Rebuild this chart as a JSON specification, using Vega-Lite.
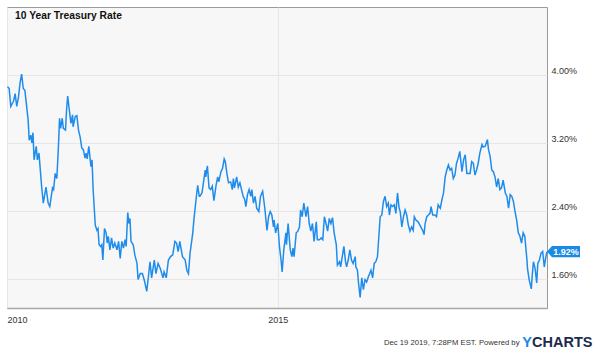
{
  "$schema": "https://vega.github.io/schema/vega-lite/v6.json",
  "width": 540,
  "height": 301,
  "autosize": "none",
  "padding": {"left": 7, "top": 7, "right": 53, "bottom": 45},
  "background": "white",
  "config": {
    "font": "Liberation Sans",
    "view": {"fill": "#f7f7f7", "stroke": "#9a9a9a", "strokeWidth": 1}
  },
  "title": {
    "text": "10 Year Treasury Rate",
    "anchor": "start",
    "frame": "group",
    "offset": -14,
    "dx": 8,
    "fontSize": 10.3,
    "fontWeight": "bold",
    "color": "#111111",
    "font": "Liberation Sans"
  },
  "datasets": {
    "rate": [
      {"t": 2010.01, "r": 3.86}, {"t": 2010.04, "r": 3.84}, {"t": 2010.07, "r": 3.63}, {"t": 2010.12, "r": 3.69},
      {"t": 2010.15, "r": 3.78}, {"t": 2010.18, "r": 3.63}, {"t": 2010.21, "r": 3.73}, {"t": 2010.24, "r": 3.90},
      {"t": 2010.27, "r": 4.01}, {"t": 2010.30, "r": 3.84}, {"t": 2010.33, "r": 3.82}, {"t": 2010.39, "r": 3.47},
      {"t": 2010.41, "r": 3.23}, {"t": 2010.44, "r": 3.29}, {"t": 2010.46, "r": 3.20}, {"t": 2010.48, "r": 3.32},
      {"t": 2010.50, "r": 3.00}, {"t": 2010.54, "r": 3.16}, {"t": 2010.56, "r": 3.00}, {"t": 2010.59, "r": 3.08},
      {"t": 2010.61, "r": 2.92}, {"t": 2010.64, "r": 2.68}, {"t": 2010.67, "r": 2.49}, {"t": 2010.72, "r": 2.68},
      {"t": 2010.76, "r": 2.49}, {"t": 2010.79, "r": 2.45}, {"t": 2010.84, "r": 2.67}, {"t": 2010.86, "r": 2.65},
      {"t": 2010.89, "r": 2.84}, {"t": 2010.92, "r": 2.78}, {"t": 2010.95, "r": 3.16}, {"t": 2010.97, "r": 3.49},
      {"t": 2010.99, "r": 3.37}, {"t": 2011.02, "r": 3.49}, {"t": 2011.04, "r": 3.37}, {"t": 2011.08, "r": 3.35},
      {"t": 2011.10, "r": 3.59}, {"t": 2011.12, "r": 3.75}, {"t": 2011.15, "r": 3.59}, {"t": 2011.18, "r": 3.43},
      {"t": 2011.21, "r": 3.53}, {"t": 2011.22, "r": 3.39}, {"t": 2011.26, "r": 3.51}, {"t": 2011.29, "r": 3.52},
      {"t": 2011.32, "r": 3.35}, {"t": 2011.35, "r": 3.27}, {"t": 2011.38, "r": 3.14}, {"t": 2011.41, "r": 3.12},
      {"t": 2011.44, "r": 3.02}, {"t": 2011.46, "r": 3.08}, {"t": 2011.48, "r": 3.01}, {"t": 2011.51, "r": 3.16},
      {"t": 2011.55, "r": 2.92}, {"t": 2011.57, "r": 3.00}, {"t": 2011.59, "r": 2.65}, {"t": 2011.63, "r": 2.23},
      {"t": 2011.66, "r": 2.17}, {"t": 2011.68, "r": 2.19}, {"t": 2011.70, "r": 2.00}, {"t": 2011.73, "r": 1.98},
      {"t": 2011.75, "r": 2.00}, {"t": 2011.77, "r": 1.82}, {"t": 2011.80, "r": 2.19}, {"t": 2011.83, "r": 2.14},
      {"t": 2011.85, "r": 2.02}, {"t": 2011.87, "r": 2.10}, {"t": 2011.90, "r": 1.94}, {"t": 2011.93, "r": 2.08},
      {"t": 2011.96, "r": 1.96}, {"t": 2011.99, "r": 2.02}, {"t": 2012.03, "r": 1.94}, {"t": 2012.06, "r": 2.04},
      {"t": 2012.09, "r": 1.84}, {"t": 2012.12, "r": 2.04}, {"t": 2012.15, "r": 1.96}, {"t": 2012.18, "r": 2.06},
      {"t": 2012.20, "r": 1.98}, {"t": 2012.23, "r": 2.38}, {"t": 2012.25, "r": 2.25}, {"t": 2012.27, "r": 2.31},
      {"t": 2012.29, "r": 2.04}, {"t": 2012.33, "r": 2.00}, {"t": 2012.36, "r": 1.88}, {"t": 2012.40, "r": 1.78},
      {"t": 2012.42, "r": 1.59}, {"t": 2012.46, "r": 1.66}, {"t": 2012.50, "r": 1.66}, {"t": 2012.54, "r": 1.57},
      {"t": 2012.58, "r": 1.45}, {"t": 2012.61, "r": 1.62}, {"t": 2012.64, "r": 1.80}, {"t": 2012.67, "r": 1.61},
      {"t": 2012.72, "r": 1.82}, {"t": 2012.75, "r": 1.66}, {"t": 2012.79, "r": 1.78}, {"t": 2012.83, "r": 1.72},
      {"t": 2012.88, "r": 1.61}, {"t": 2012.90, "r": 1.68}, {"t": 2012.94, "r": 1.61}, {"t": 2012.98, "r": 1.82},
      {"t": 2013.02, "r": 1.86}, {"t": 2013.06, "r": 1.88}, {"t": 2013.10, "r": 2.04}, {"t": 2013.13, "r": 2.02},
      {"t": 2013.16, "r": 1.92}, {"t": 2013.19, "r": 2.04}, {"t": 2013.24, "r": 1.86}, {"t": 2013.29, "r": 1.82},
      {"t": 2013.32, "r": 1.70}, {"t": 2013.35, "r": 1.66}, {"t": 2013.38, "r": 1.90}, {"t": 2013.43, "r": 2.14},
      {"t": 2013.45, "r": 2.29}, {"t": 2013.49, "r": 2.53}, {"t": 2013.52, "r": 2.70}, {"t": 2013.55, "r": 2.57},
      {"t": 2013.56, "r": 2.57}, {"t": 2013.60, "r": 2.61}, {"t": 2013.66, "r": 2.88}, {"t": 2013.67, "r": 2.80},
      {"t": 2013.70, "r": 2.93}, {"t": 2013.73, "r": 2.67}, {"t": 2013.76, "r": 2.65}, {"t": 2013.79, "r": 2.69},
      {"t": 2013.82, "r": 2.52}, {"t": 2013.86, "r": 2.70}, {"t": 2013.89, "r": 2.80}, {"t": 2013.91, "r": 2.74},
      {"t": 2013.95, "r": 2.86}, {"t": 2013.98, "r": 2.90}, {"t": 2014.01, "r": 3.01}, {"t": 2014.03, "r": 2.98},
      {"t": 2014.06, "r": 2.84}, {"t": 2014.09, "r": 2.73}, {"t": 2014.13, "r": 2.74}, {"t": 2014.16, "r": 2.65},
      {"t": 2014.18, "r": 2.78}, {"t": 2014.20, "r": 2.67}, {"t": 2014.24, "r": 2.80}, {"t": 2014.27, "r": 2.68},
      {"t": 2014.30, "r": 2.73}, {"t": 2014.33, "r": 2.65}, {"t": 2014.36, "r": 2.57}, {"t": 2014.39, "r": 2.53},
      {"t": 2014.41, "r": 2.45}, {"t": 2014.44, "r": 2.59}, {"t": 2014.47, "r": 2.65}, {"t": 2014.50, "r": 2.57},
      {"t": 2014.52, "r": 2.65}, {"t": 2014.55, "r": 2.49}, {"t": 2014.58, "r": 2.57}, {"t": 2014.61, "r": 2.43},
      {"t": 2014.65, "r": 2.39}, {"t": 2014.68, "r": 2.57}, {"t": 2014.72, "r": 2.63}, {"t": 2014.76, "r": 2.43},
      {"t": 2014.80, "r": 2.17}, {"t": 2014.83, "r": 2.33}, {"t": 2014.86, "r": 2.39}, {"t": 2014.89, "r": 2.35},
      {"t": 2014.92, "r": 2.21}, {"t": 2014.93, "r": 2.29}, {"t": 2014.96, "r": 2.14}, {"t": 2015.00, "r": 2.25},
      {"t": 2015.03, "r": 1.98}, {"t": 2015.06, "r": 1.82}, {"t": 2015.08, "r": 1.68}, {"t": 2015.11, "r": 1.94},
      {"t": 2015.15, "r": 2.14}, {"t": 2015.16, "r": 2.00}, {"t": 2015.19, "r": 2.25}, {"t": 2015.23, "r": 1.94},
      {"t": 2015.26, "r": 1.86}, {"t": 2015.28, "r": 1.96}, {"t": 2015.30, "r": 1.86}, {"t": 2015.34, "r": 2.14},
      {"t": 2015.37, "r": 2.16}, {"t": 2015.40, "r": 2.21}, {"t": 2015.42, "r": 2.41}, {"t": 2015.45, "r": 2.33},
      {"t": 2015.48, "r": 2.49}, {"t": 2015.52, "r": 2.33}, {"t": 2015.55, "r": 2.45}, {"t": 2015.58, "r": 2.25},
      {"t": 2015.61, "r": 2.16}, {"t": 2015.64, "r": 2.25}, {"t": 2015.67, "r": 2.04}, {"t": 2015.71, "r": 2.27},
      {"t": 2015.73, "r": 2.06}, {"t": 2015.77, "r": 2.06}, {"t": 2015.80, "r": 2.08}, {"t": 2015.83, "r": 2.06},
      {"t": 2015.86, "r": 2.33}, {"t": 2015.89, "r": 2.25}, {"t": 2015.92, "r": 2.16}, {"t": 2015.95, "r": 2.31},
      {"t": 2015.98, "r": 2.25}, {"t": 2016.01, "r": 2.32}, {"t": 2016.04, "r": 2.14}, {"t": 2016.08, "r": 2.00},
      {"t": 2016.10, "r": 1.76}, {"t": 2016.14, "r": 1.80}, {"t": 2016.16, "r": 1.74}, {"t": 2016.19, "r": 1.86},
      {"t": 2016.22, "r": 1.98}, {"t": 2016.25, "r": 1.80}, {"t": 2016.27, "r": 1.74}, {"t": 2016.30, "r": 1.82},
      {"t": 2016.33, "r": 1.94}, {"t": 2016.36, "r": 1.82}, {"t": 2016.39, "r": 1.78}, {"t": 2016.43, "r": 1.86},
      {"t": 2016.44, "r": 1.74}, {"t": 2016.47, "r": 1.70}, {"t": 2016.49, "r": 1.55}, {"t": 2016.52, "r": 1.38},
      {"t": 2016.55, "r": 1.61}, {"t": 2016.58, "r": 1.47}, {"t": 2016.61, "r": 1.59}, {"t": 2016.64, "r": 1.56},
      {"t": 2016.67, "r": 1.62}, {"t": 2016.72, "r": 1.70}, {"t": 2016.75, "r": 1.61}, {"t": 2016.78, "r": 1.78},
      {"t": 2016.81, "r": 1.80}, {"t": 2016.84, "r": 1.86}, {"t": 2016.89, "r": 2.33}, {"t": 2016.92, "r": 2.35},
      {"t": 2016.95, "r": 2.51}, {"t": 2016.98, "r": 2.57}, {"t": 2017.01, "r": 2.45}, {"t": 2017.04, "r": 2.49},
      {"t": 2017.06, "r": 2.35}, {"t": 2017.09, "r": 2.47}, {"t": 2017.12, "r": 2.45}, {"t": 2017.15, "r": 2.47},
      {"t": 2017.18, "r": 2.37}, {"t": 2017.21, "r": 2.61}, {"t": 2017.24, "r": 2.43}, {"t": 2017.26, "r": 2.39},
      {"t": 2017.29, "r": 2.21}, {"t": 2017.32, "r": 2.33}, {"t": 2017.35, "r": 2.41}, {"t": 2017.38, "r": 2.35},
      {"t": 2017.41, "r": 2.23}, {"t": 2017.44, "r": 2.16}, {"t": 2017.47, "r": 2.21}, {"t": 2017.50, "r": 2.17},
      {"t": 2017.52, "r": 2.33}, {"t": 2017.55, "r": 2.29}, {"t": 2017.59, "r": 2.27}, {"t": 2017.64, "r": 2.21},
      {"t": 2017.68, "r": 2.16}, {"t": 2017.70, "r": 2.12}, {"t": 2017.72, "r": 2.25}, {"t": 2017.75, "r": 2.33},
      {"t": 2017.78, "r": 2.35}, {"t": 2017.81, "r": 2.37}, {"t": 2017.83, "r": 2.45}, {"t": 2017.86, "r": 2.35},
      {"t": 2017.90, "r": 2.35}, {"t": 2017.93, "r": 2.33}, {"t": 2017.96, "r": 2.47}, {"t": 2018.00, "r": 2.43},
      {"t": 2018.03, "r": 2.53}, {"t": 2018.06, "r": 2.61}, {"t": 2018.09, "r": 2.80}, {"t": 2018.12, "r": 2.88},
      {"t": 2018.15, "r": 2.94}, {"t": 2018.18, "r": 2.88}, {"t": 2018.21, "r": 2.90}, {"t": 2018.24, "r": 2.78},
      {"t": 2018.27, "r": 2.82}, {"t": 2018.30, "r": 2.96}, {"t": 2018.33, "r": 3.02}, {"t": 2018.36, "r": 3.10},
      {"t": 2018.40, "r": 2.86}, {"t": 2018.43, "r": 3.00}, {"t": 2018.46, "r": 3.06}, {"t": 2018.49, "r": 2.84},
      {"t": 2018.52, "r": 2.84}, {"t": 2018.55, "r": 2.84}, {"t": 2018.58, "r": 2.98}, {"t": 2018.61, "r": 2.96},
      {"t": 2018.64, "r": 2.82}, {"t": 2018.67, "r": 2.88}, {"t": 2018.70, "r": 2.96}, {"t": 2018.73, "r": 3.08},
      {"t": 2018.77, "r": 3.18}, {"t": 2018.79, "r": 3.15}, {"t": 2018.83, "r": 3.16}, {"t": 2018.87, "r": 3.24},
      {"t": 2018.89, "r": 3.12}, {"t": 2018.92, "r": 3.04}, {"t": 2018.95, "r": 2.88}, {"t": 2018.98, "r": 2.86},
      {"t": 2019.01, "r": 2.80}, {"t": 2019.04, "r": 2.68}, {"t": 2019.07, "r": 2.78}, {"t": 2019.10, "r": 2.65},
      {"t": 2019.13, "r": 2.67}, {"t": 2019.16, "r": 2.76}, {"t": 2019.20, "r": 2.61}, {"t": 2019.23, "r": 2.57},
      {"t": 2019.26, "r": 2.43}, {"t": 2019.29, "r": 2.59}, {"t": 2019.32, "r": 2.57}, {"t": 2019.35, "r": 2.51},
      {"t": 2019.38, "r": 2.39}, {"t": 2019.41, "r": 2.29}, {"t": 2019.44, "r": 2.14}, {"t": 2019.47, "r": 2.10},
      {"t": 2019.50, "r": 2.02}, {"t": 2019.53, "r": 2.14}, {"t": 2019.56, "r": 2.10}, {"t": 2019.60, "r": 1.82},
      {"t": 2019.61, "r": 1.72}, {"t": 2019.64, "r": 1.59}, {"t": 2019.68, "r": 1.48}, {"t": 2019.70, "r": 1.66},
      {"t": 2019.72, "r": 1.80}, {"t": 2019.75, "r": 1.72}, {"t": 2019.78, "r": 1.55}, {"t": 2019.80, "r": 1.78},
      {"t": 2019.83, "r": 1.82}, {"t": 2019.86, "r": 1.90}, {"t": 2019.89, "r": 1.92}, {"t": 2019.92, "r": 1.74},
      {"t": 2019.95, "r": 1.86}, {"t": 2019.97, "r": 1.92}
    ],
    "last": [{"t": 2019.97, "r": 1.92, "label": "1.92%"}]
  },
  "encoding": {
    "x": {
      "field": "t",
      "type": "quantitative",
      "scale": {"domain": [2010, 2019.97], "nice": false, "zero": false},
      "axis": {
        "values": [2010, 2015],
        "format": "d",
        "labelFlush": true,
        "grid": true,
        "gridColor": "#e6e6e6",
        "domain": true,
        "domainColor": "#a6a6a6",
        "domainWidth": 1.5,
        "ticks": false,
        "labelPadding": 7,
        "labelFontSize": 9,
        "labelColor": "#333333",
        "title": "Dec 19 2019, 7:28PM EST.  Powered by",
        "titleFontSize": 7.7,
        "titleFontWeight": "normal",
        "titleColor": "#333333",
        "titleX": 512,
        "titleY": 34,
        "titleAlign": "right",
        "titleBaseline": "middle"
      }
    }
  },
  "resolve": {"scale": {"y": "independent"}},
  "layer": [
    {
      "encoding": {
        "y": {
          "field": "r",
          "type": "quantitative",
          "scale": {"domain": [1.255, 4.8], "nice": false, "zero": false},
          "axis": {
            "orient": "right",
            "values": [1.6, 2.4, 3.2, 4.0],
            "labelExpr": "format(datum.value, '.2f') + '%'",
            "grid": true,
            "gridColor": "#e6e6e6",
            "domain": false,
            "ticks": false,
            "labelPadding": 4,
            "labelAlign": "left",
            "labelBaseline": "alphabetic",
            "labelOffset": -1,
            "labelFontSize": 9,
            "labelColor": "#333333",
            "title": "CHARTS",
            "titleAngle": 0,
            "titleX": -15.5,
            "titleY": 335,
            "titleAlign": "left",
            "titleBaseline": "middle",
            "titleFontSize": 14.5,
            "titleFontWeight": "bold",
            "titleColor": "#1c2a4e"
          }
        }
      },
      "layer": [
        {
          "data": {"name": "rate"},
          "mark": {"type": "line", "color": "#1f8ceb", "strokeWidth": 1.5}
        },
        {
          "data": {"name": "last"},
          "mark": {
            "type": "point",
            "shape": "M0,0L0.3,-0.34L2,-0.34L2,0.34L0.3,0.34Z",
            "size": 1089,
            "filled": true,
            "fill": "#1a8be3",
            "opacity": 1,
            "strokeWidth": 0
          }
        },
        {
          "data": {"name": "last"},
          "mark": {
            "type": "text",
            "color": "white",
            "fontWeight": "bold",
            "fontSize": 9,
            "dx": 19,
            "align": "center",
            "baseline": "middle"
          },
          "encoding": {"text": {"field": "label"}}
        }
      ]
    },
    {
      "data": {"name": "last"},
      "mark": {"type": "point", "opacity": 0},
      "encoding": {
        "y": {
          "field": "r",
          "type": "quantitative",
          "scale": {"domain": [1.255, 4.8], "nice": false, "zero": false},
          "axis": {
            "orient": "left",
            "labels": false,
            "grid": false,
            "domain": false,
            "ticks": false,
            "title": "Y",
            "titleAngle": 0,
            "titleX": 514.7,
            "titleY": 335,
            "titleAlign": "left",
            "titleBaseline": "middle",
            "titleFontSize": 14.5,
            "titleFontWeight": "bold",
            "titleColor": "#1a8be3"
          }
        }
      }
    }
  ]
}
